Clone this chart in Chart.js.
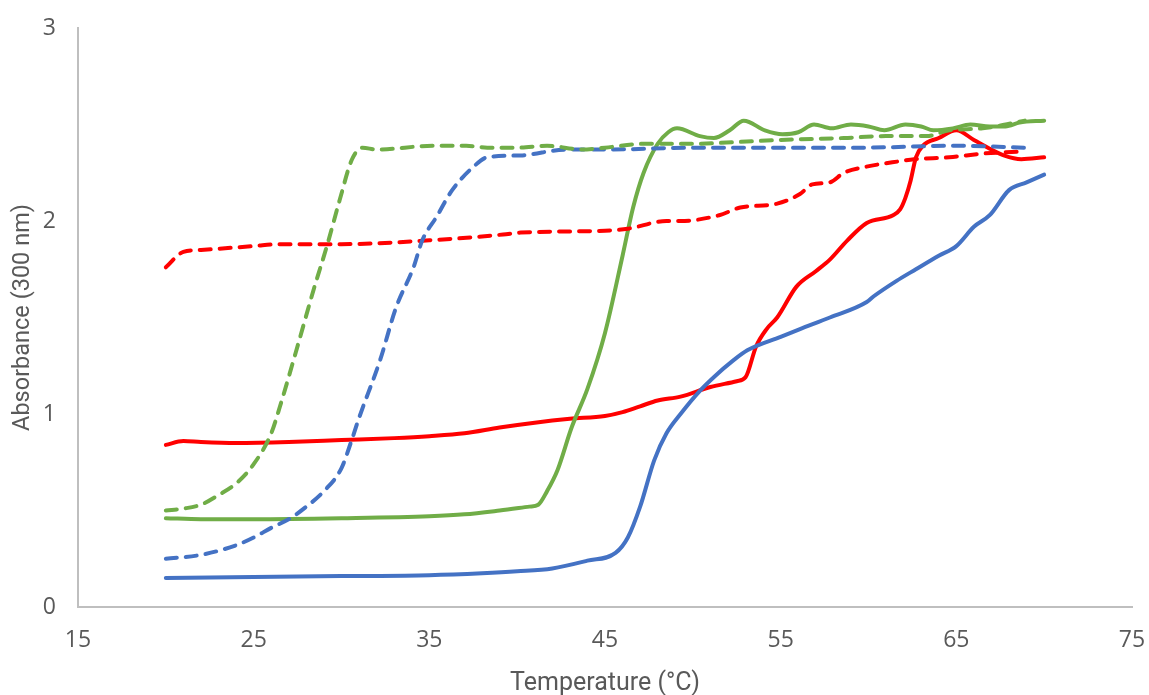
<!DOCTYPE html>
<html>
<head>
<meta charset="utf-8">
<script src="https://cdn.jsdelivr.net/npm/chart.js@4"></script>
<style>
  html, body { margin: 0; padding: 0; background: #fff; }
  #wrap { width: 1149px; height: 695px; }
</style>
</head>
<body>
<div id="wrap"><canvas id="meltChart" width="1149" height="695"></canvas></div>
<script>
// temperature (°C) and absorbance readings for each run
const tGreenDash = [20, 21, 22, 23, 24, 25, 26, 26.5, 27.4, 28.4, 29.2, 29.9, 30.6, 31.2, 32, 35.2, 37.1, 38.3, 40, 41.7, 43.7, 45, 47.2, 50, 52.7, 55, 58.6, 61, 63.3, 64.6, 66.5, 68.9];
const aGreenDash = [0.50, 0.51, 0.53, 0.58, 0.64, 0.74, 0.9, 1.04, 1.32, 1.64, 1.88, 2.11, 2.32, 2.38, 2.37, 2.39, 2.39, 2.38, 2.38, 2.39, 2.37, 2.38, 2.40, 2.40, 2.41, 2.42, 2.43, 2.44, 2.44, 2.47, 2.48, 2.52];

const tBlueDash = [20, 22, 24, 25, 26, 27.1, 28, 29, 30, 30.6, 31, 32.2, 33.1, 34.1, 34.6, 35.4, 36.3, 37.5, 38.3, 40.2, 42.8, 45, 50, 55, 59.5, 65, 68.9];
const aBlueDash = [0.25, 0.27, 0.32, 0.36, 0.41, 0.46, 0.52, 0.6, 0.72, 0.87, 0.98, 1.28, 1.55, 1.76, 1.9, 2.02, 2.16, 2.28, 2.33, 2.34, 2.37, 2.37, 2.38, 2.38, 2.38, 2.39, 2.38];

const tRedDash = [20, 21, 22, 25, 26.5, 30, 35, 39.2, 40.2, 45, 46.3, 48.5, 49.3, 51.5, 52.7, 54.8, 56.1, 56.8, 57.8, 58.6, 59.8, 61.8, 62.6, 64.6, 66.6, 68.9];
const aRedDash = [1.76, 1.84, 1.85, 1.87, 1.88, 1.88, 1.90, 1.93, 1.94, 1.95, 1.96, 2.0, 2.0, 2.03, 2.07, 2.09, 2.14, 2.19, 2.2, 2.25, 2.28, 2.31, 2.32, 2.33, 2.35, 2.36];

const tGreen = [20, 22, 25, 30, 35, 37, 39, 40.7, 41.2, 41.7, 42.3, 43.1, 44, 45, 46, 46.6, 47.2, 48, 48.6, 49.1, 50.4, 51.2, 52.1, 52.9, 54.1, 55.1, 56, 56.9, 57.9, 59, 60, 60.9, 62.1, 63, 63.7, 64.8, 65.8, 66.9, 67.8, 68.6, 70];
const aGreen = [0.46, 0.455, 0.455, 0.46, 0.47, 0.48, 0.5, 0.52, 0.53, 0.6, 0.71, 0.93, 1.13, 1.42, 1.82, 2.07, 2.25, 2.4, 2.46, 2.48, 2.44, 2.43, 2.47, 2.52, 2.47, 2.45, 2.46, 2.5, 2.48, 2.5, 2.49, 2.47, 2.5, 2.49, 2.47, 2.48, 2.5, 2.49, 2.49, 2.51, 2.52];

const tBlue = [20, 25, 30, 35, 38, 40, 42, 44, 45.6, 46.3, 47, 47.8, 48.5, 49.3, 50.4, 51.3, 52.2, 53.1, 55, 56.1, 57.8, 59.9, 60.3, 61.6, 62.7, 64, 65, 66, 66.9, 68, 69, 70];
const aBlue = [0.15, 0.155, 0.16, 0.165, 0.175, 0.185, 0.2, 0.24, 0.28, 0.36, 0.52, 0.76, 0.9, 1.0, 1.12, 1.2, 1.27, 1.33, 1.4, 1.44, 1.5, 1.58, 1.61, 1.69, 1.75, 1.82, 1.87, 1.97, 2.03, 2.16, 2.2, 2.24];

const tRed = [20, 21, 22, 24, 27, 30, 33, 35, 37, 39, 41, 43, 45, 46, 47, 48, 49.3, 51, 52.5, 53, 53.6, 54.2, 54.8, 55.9, 57, 57.8, 58.8, 59.9, 61.4, 61.8, 62.1, 62.4, 62.7, 63.1, 64, 65, 66, 67, 67.7, 68.7, 70];
const aRed = [0.84, 0.86, 0.855, 0.85, 0.855, 0.865, 0.875, 0.885, 0.9, 0.93, 0.955, 0.975, 0.99, 1.01, 1.04, 1.07, 1.09, 1.14, 1.17, 1.19, 1.35, 1.44, 1.5, 1.66, 1.74, 1.8, 1.9, 1.99, 2.03, 2.06, 2.12, 2.21, 2.33, 2.39, 2.43, 2.47, 2.42, 2.37, 2.34, 2.32, 2.33];

const xTicks = [15, 25, 35, 45, 55, 65, 75];
const yTicks = [0, 1, 2, 3];

const GREEN = "#70AD47";
const BLUE = "#4472C4";
const RED = "#FF0000";
const TEXT = "#595959";
const AXIS = "#BFBFBF";
const TICK_FONT = "'Open Sans', sans-serif";
const TITLE_FONT = "Roboto, sans-serif";

function series(temps, abs, color, dashed) {
  return {
    data: temps.map((t, i) => ({ x: t, y: abs[i] })),
    borderColor: color,
    backgroundColor: color,
    borderWidth: 4,
    borderDash: dashed ? [11, 9] : [],
    borderCapStyle: "round",
    borderJoinStyle: "round",
    cubicInterpolationMode: "monotone",
    pointRadius: 0,
    fill: false,
  };
}

window.addEventListener("DOMContentLoaded", () => {
  const ctx = document.getElementById("meltChart").getContext("2d");
  new Chart(ctx, {
    type: "line",
    data: {
      datasets: [
        series(tGreenDash, aGreenDash, GREEN, true),
        series(tBlueDash, aBlueDash, BLUE, true),
        series(tRedDash, aRedDash, RED, true),
        series(tGreen, aGreen, GREEN, false),
        series(tBlue, aBlue, BLUE, false),
        series(tRed, aRed, RED, false),
      ],
    },
    options: {
      responsive: false,
      animation: false,
      layout: { padding: { left: 0, right: 17, top: 28, bottom: 0 } },
      plugins: { legend: { display: false }, tooltip: { enabled: false } },
      scales: {
        x: {
          type: "linear",
          min: 15,
          max: 75,
          afterBuildTicks: (s) => { s.ticks = xTicks.map((v) => ({ value: v })); },
          afterFit: (s) => { s.height = 88; },
          // tick marks hidden, tickLength only spaces the labels from the axis
          grid: { display: false, drawTicks: true, tickLength: 17 },
          border: { display: true, color: AXIS, width: 2 },
          ticks: { color: TEXT, padding: 3, maxRotation: 0, font: { family: TICK_FONT, size: 23 } },
          title: {
            display: true,
            text: "Temperature (°C)",
            color: TEXT,
            padding: { top: 0, bottom: -4 },
            font: { family: TITLE_FONT, size: 25 },
          },
        },
        y: {
          min: 0,
          max: 3,
          afterBuildTicks: (s) => { s.ticks = yTicks.map((v) => ({ value: v })); },
          afterFit: (s) => { s.width = 78; },
          grid: { display: false, drawTicks: true, tickLength: 19 },
          border: { display: true, color: AXIS, width: 2 },
          ticks: { color: TEXT, padding: 3, font: { family: TICK_FONT, size: 23 } },
          title: {
            display: true,
            text: "Absorbance (300 nm)",
            color: TEXT,
            padding: { top: 9, bottom: 0 },
            font: { family: TITLE_FONT, size: 23.5 },
          },
        },
      },
    },
  });
});
</script>
</body>
</html>
